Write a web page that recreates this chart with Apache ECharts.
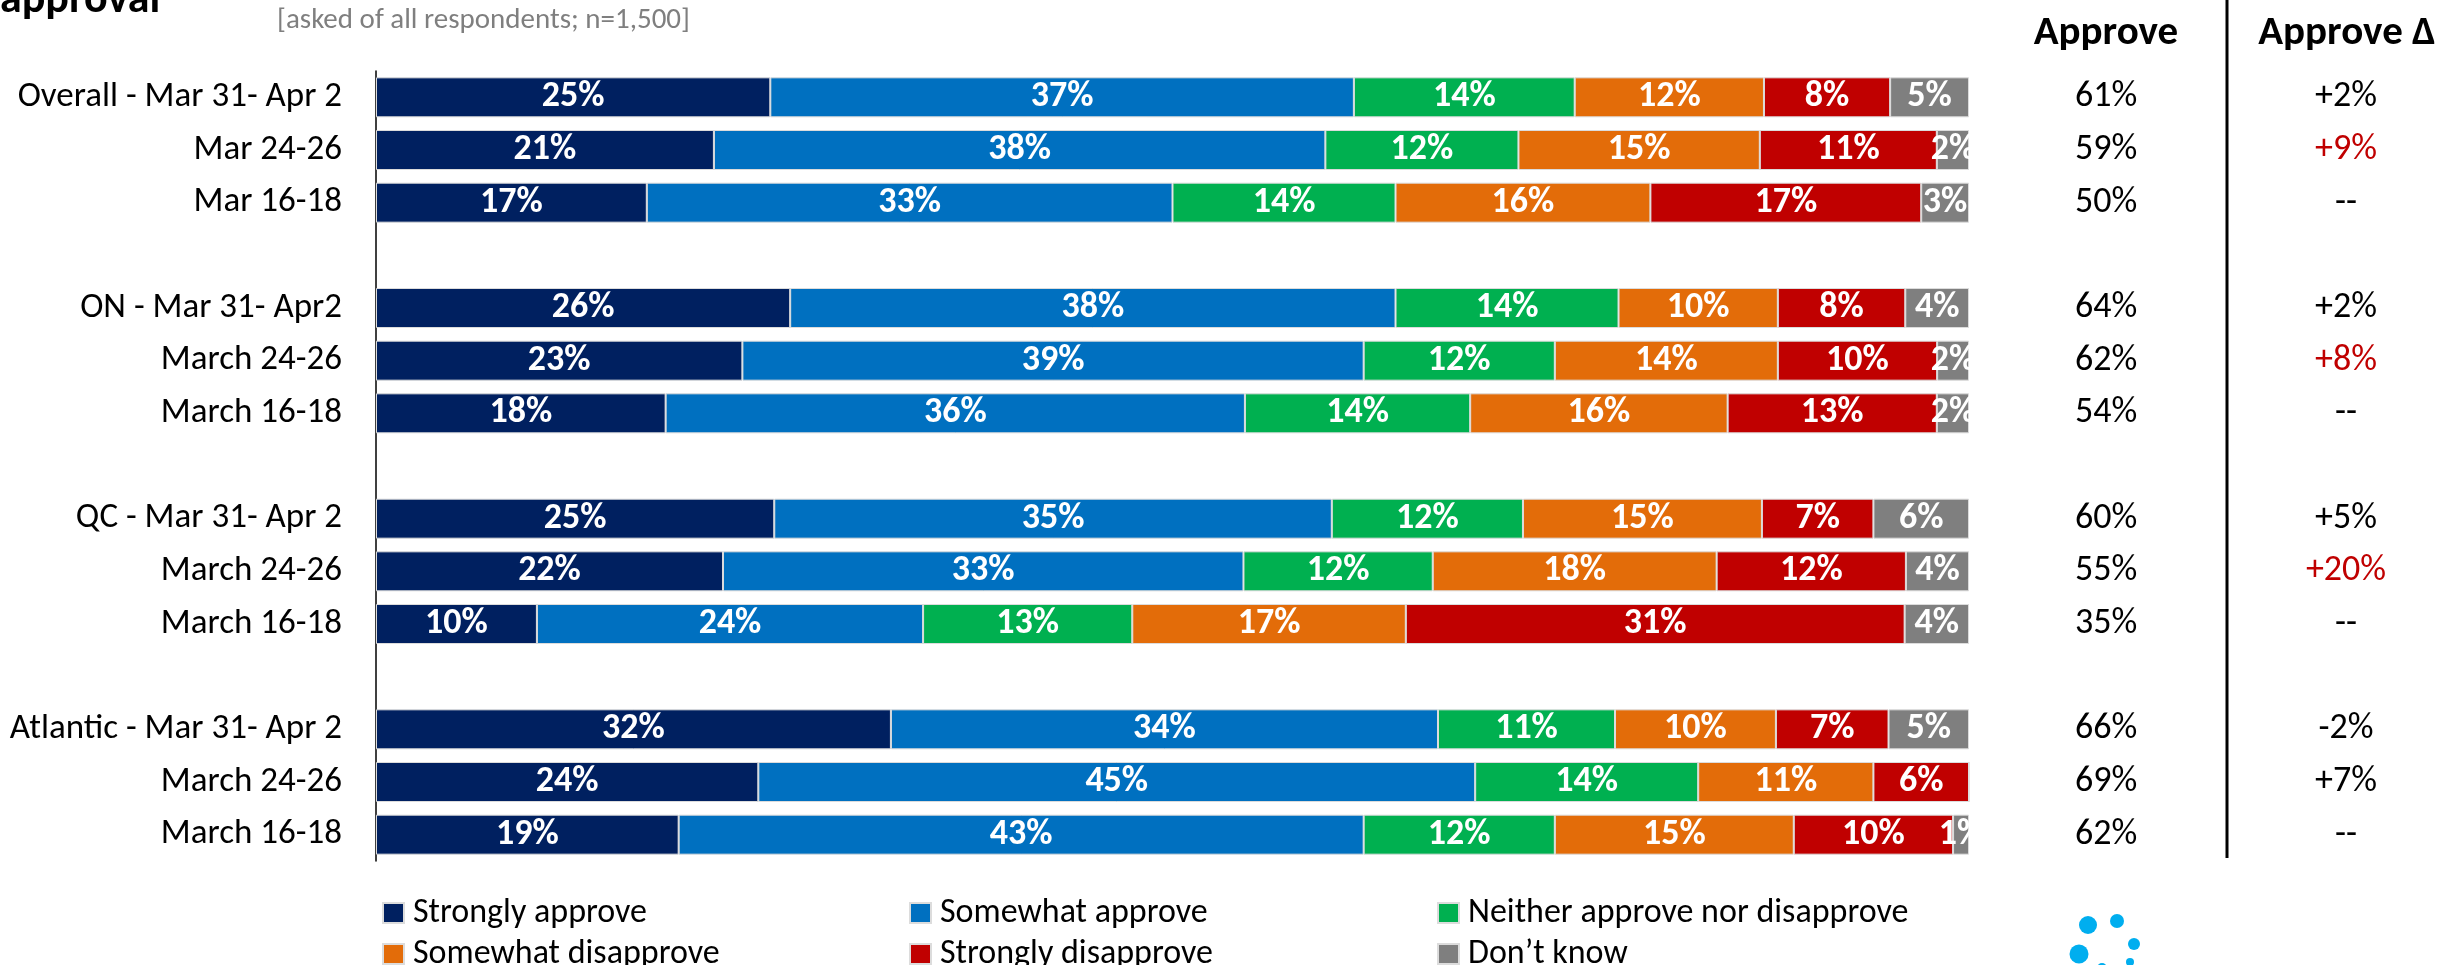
<!DOCTYPE html>
<html>
<head>
<meta charset="utf-8">
<script src="https://cdn.jsdelivr.net/npm/echarts@6/dist/echarts.min.js"></script>
<style>
html,body{margin:0;padding:0;background:#fff;}
#chart{width:2448px;height:965px;}
</style>
</head>
<body>
<div id="chart"></div>
<script>
const categories = ['Overall - Mar 31- Apr 2','Mar 24-26','Mar 16-18','',
  'ON - Mar 31- Apr2','March 24-26','March 16-18','',
  'QC - Mar 31- Apr 2','March 24-26','March 16-18','',
  'Atlantic - Mar 31- Apr 2','March 24-26','March 16-18'];
const seriesNames = ['Strongly approve','Somewhat approve','Neither approve nor disapprove','Somewhat disapprove','Strongly disapprove','Don\u2019t know'];
const stronglyApprove    = [25,21,17,null,26,23,18,null,25,22,10,null,32,24,19];
const somewhatApprove    = [37,38,33,null,38,39,36,null,35,33,24,null,34,45,43];
const neither            = [14,12,14,null,14,12,14,null,12,12,13,null,11,14,12];
const somewhatDisapprove = [12,15,16,null,10,14,16,null,15,18,17,null,10,11,15];
const stronglyDisapprove = [8,11,17,null,8,10,13,null,7,12,31,null,7,6,10];
const dontKnow           = [5,2,3,null,4,2,2,null,6,4,4,null,5,0,1];
const approve      = ['61%','59%','50%','','64%','62%','54%','','60%','55%','35%','','66%','69%','62%'];
const approveDelta = ['+2%','+9%','--','','+2%','+8%','--','','+5%','+20%','--','','-2%','+7%','--'];
const deltaSignificant = [false,true,false,false,false,true,false,false,false,true,false,false,false,false,false];

const colors = ['#002060','#0070C0','#00B050','#E36C09','#C00000','#7F7F7F'];
const FONT = 'Carlito, Lato, sans-serif';

const allSeries = [stronglyApprove, somewhatApprove, neither, somewhatDisapprove, stronglyDisapprove, dontKnow];
const rowTotals = categories.map((c, i) => allSeries.reduce((s, arr) => s + (arr[i] || 0), 0));

const series = allSeries.map((arr, si) => ({
  name: seriesNames[si],
  type: 'bar',
  stack: 'total',
  barWidth: 40,
  itemStyle: { color: colors[si], borderColor: '#dcdcdc', borderWidth: 1 },
  label: {
    show: true, position: 'inside', color: '#fff', fontWeight: 'bold',
    fontSize: 36, fontFamily: FONT,
    formatter: p => (p.data && p.data.raw) ? p.data.raw + '%' : ''
  },
  emphasis: { disabled: true },
  data: arr.map((v, i) => v === null ? null : { value: v / rowTotals[i] * 100, raw: v })
}));

const legendCols = [377, 904, 1432];
const legendRows = [888, 929];
const legends = seriesNames.map((name, i) => ({
  orient: 'horizontal', left: legendCols[i % 3], top: legendRows[Math.floor(i / 3)],
  itemWidth: 21, itemHeight: 20, icon: 'rect', selectedMode: false,
  data: [name],
  textStyle: { fontSize: 34, fontFamily: FONT, color: '#000', lineHeight: 40, padding: [0, 0, 0, 4] }
}));

const chart = echarts.init(document.getElementById('chart'), null, { renderer: 'canvas' });
chart.setOption({
  animation: false,
  backgroundColor: '#fff',
  grid: { left: 376, top: 71, width: 1593, height: 790, containLabel: false },
  xAxis: { type: 'value', min: 0, max: 100, show: false },
  yAxis: [
    { type: 'category', inverse: true, data: categories,
      axisLine: { show: true, lineStyle: { color: '#000', width: 1.5 } },
      axisTick: { show: false },
      axisLabel: { margin: 34, fontSize: 35, color: '#000', fontFamily: FONT } },
    { type: 'category', inverse: true, data: approve, position: 'right',
      axisLine: { show: false }, axisTick: { show: false },
      axisLabel: { margin: 137, align: 'center', fontSize: 36, color: '#000', fontFamily: FONT } },
    { type: 'category', inverse: true, data: approveDelta, position: 'right', offset: 0,
      axisLine: { show: false }, axisTick: { show: false },
      axisLabel: { margin: 377, align: 'center', fontSize: 36, fontFamily: FONT,
        color: (v, i) => deltaSignificant[i] ? '#C00000' : '#000' } }
  ],
  legend: legends,
  graphic: [
    { type: 'text', x: 0, y: 23, style: { text: 'approval', fontSize: 44, fontWeight: 'bold', fontFamily: FONT, fill: '#000', verticalAlign: 'bottom' } },
    { type: 'text', x: 277, y: 21, style: { text: '[asked of all respondents; n=1,500]', fontSize: 29, fontFamily: FONT, fill: '#7F7F7F', verticalAlign: 'middle' } },
    { type: 'text', x: 2106, y: 34, style: { text: 'Approve', fontSize: 41, fontWeight: 'bold', fontFamily: FONT, fill: '#000', align: 'center', verticalAlign: 'middle' } },
    { type: 'text', x: 2347, y: 34, style: { text: 'Approve \u0394', fontSize: 41, fontWeight: 'bold', fontFamily: FONT, fill: '#000', align: 'center', verticalAlign: 'middle' } },
    { type: 'line', shape: { x1: 2227, y1: 0, x2: 2227, y2: 858 }, style: { stroke: '#000', lineWidth: 3 } },
    { type: 'circle', shape: { cx: 2088, cy: 925, r: 9 }, style: { fill: '#00AEEF' } },
    { type: 'circle', shape: { cx: 2117, cy: 921, r: 7 }, style: { fill: '#00AEEF' } },
    { type: 'circle', shape: { cx: 2134, cy: 944, r: 6 }, style: { fill: '#00AEEF' } },
    { type: 'circle', shape: { cx: 2079, cy: 954, r: 9.5 }, style: { fill: '#00AEEF' } },
    { type: 'circle', shape: { cx: 2130, cy: 962, r: 4 }, style: { fill: '#00AEEF' } },
    { type: 'circle', shape: { cx: 2102, cy: 968, r: 5 }, style: { fill: '#00AEEF' } }
  ],
  series: series
});
</script>
</body>
</html>
